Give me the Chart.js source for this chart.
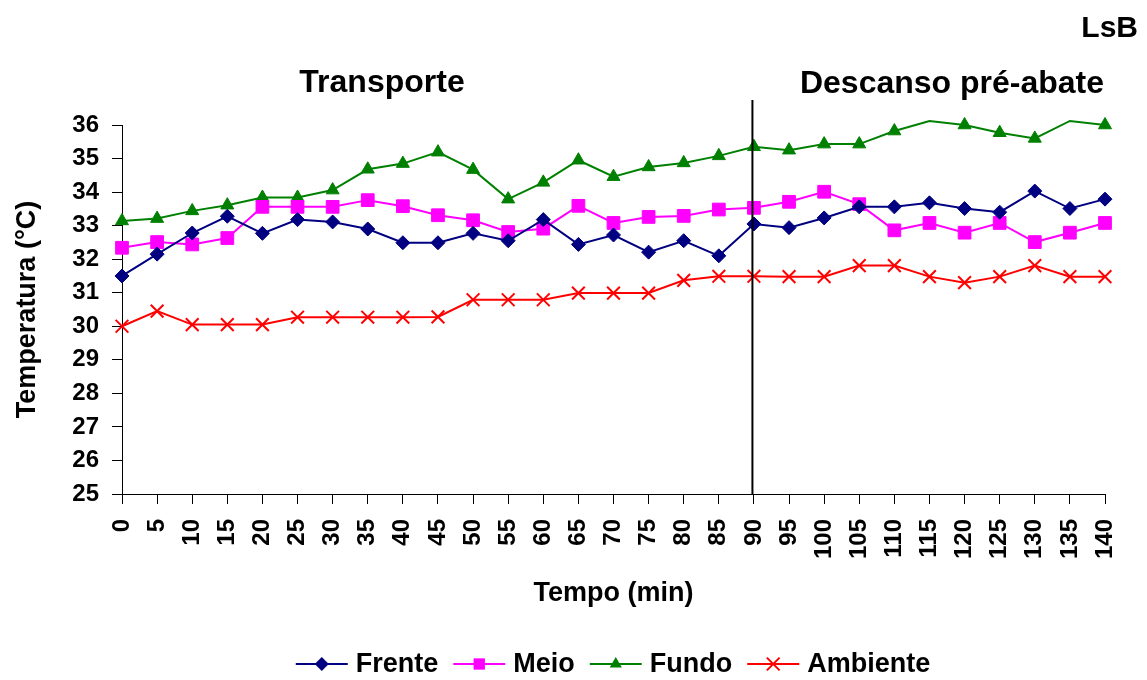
<!DOCTYPE html>
<html>
<head>
<meta charset="utf-8">
<title>Temperatura - LsB</title>
<script src="https://cdn.jsdelivr.net/npm/chart.js@4.4.1/dist/chart.umd.min.js"></script>
<style>
  html, body { margin: 0; padding: 0; background: #ffffff; }
  #wrap { width: 1147px; height: 680px; position: relative; }
  canvas { display: block; }
</style>
</head>
<body>
<div id="wrap"><canvas id="chart" width="1147" height="680"></canvas></div>
<script>
// Tempo (min)
const minutes = ['0','5','10','15','20','25','30','35','40','45','50','55','60','65','70',
                 '75','80','85','90','95','100','105','110','115','120','125','130','135','140'];

// Temperatura (°C) por posição
const frente = [31.50, 32.15, 32.78, 33.28, 32.77, 33.18, 33.11, 32.90, 32.49, 32.49,
                32.77, 32.55, 33.18, 32.44, 32.72, 32.21, 32.55, 32.10, 33.05,
                32.94, 33.23, 33.56, 33.56, 33.68, 33.51, 33.40, 34.03, 33.51, 33.79];
const meio = [32.34, 32.51, 32.44, 32.63, 33.56, 33.56, 33.56, 33.76, 33.58, 33.31,
              33.16, 32.81, 32.91, 33.59, 33.08, 33.26, 33.29, 33.48, 33.53,
              33.71, 34.01, 33.64, 32.86, 33.08, 32.79, 33.08, 32.51, 32.79, 33.08];
const fundo = [33.14, 33.21, 33.44, 33.61, 33.84, 33.84, 34.06, 34.68, 34.85, 35.19,
               34.67, 33.79, 34.29, 34.95, 34.46, 34.75, 34.87, 35.08, 35.35,
               35.25, 35.43, 35.43, 35.82, 36.12, 36.00, 35.77, 35.60, 36.12, 36.00];
const ambiente = [30.00, 30.45, 30.05, 30.05, 30.05, 30.27, 30.27, 30.27, 30.27, 30.28,
                  30.79, 30.79, 30.79, 30.99, 30.99, 30.99, 31.37, 31.49, 31.49,
                  31.48, 31.48, 31.81, 31.81, 31.48, 31.30, 31.48, 31.81, 31.48, 31.48];

// Fundo readings recorded without a marker
const fundoSemMarcador = ['115', '135'];

// Phase labels and the boundary between them
const fases = ['Transporte', 'Descanso pré-abate'];
const inicioDescanso = '90';
const rotuloLote = 'LsB';

const FONT = '"Liberation Sans", Arial, Helvetica, sans-serif';

function drawMarker(ctx, style, x, y, r, color) {
  ctx.save();
  ctx.fillStyle = color;
  ctx.strokeStyle = color;
  ctx.beginPath();
  if (style === 'rectRot') {
    ctx.moveTo(x, y - r); ctx.lineTo(x + r, y); ctx.lineTo(x, y + r); ctx.lineTo(x - r, y);
    ctx.closePath(); ctx.fill();
  } else if (style === 'rect') {
    const s = r * Math.SQRT1_2;
    ctx.rect(x - s, y - s, 2 * s, 2 * s); ctx.fill();
  } else if (style === 'triangle') {
    ctx.moveTo(x, y - r);
    ctx.lineTo(x + r * Math.sin(Math.PI * 2 / 3), y - r * Math.cos(Math.PI * 2 / 3));
    ctx.lineTo(x - r * Math.sin(Math.PI * 2 / 3), y - r * Math.cos(Math.PI * 2 / 3));
    ctx.closePath(); ctx.fill();
  } else if (style === 'crossRot') {
    const o = r * Math.SQRT1_2;
    ctx.lineWidth = 2;
    ctx.moveTo(x - o, y - o); ctx.lineTo(x + o, y + o);
    ctx.moveTo(x - o, y + o); ctx.lineTo(x + o, y - o);
    ctx.stroke();
  }
  ctx.restore();
}

// Phase titles, divider line and the legend row
const anotacoes = {
  id: 'anotacoes',
  afterDatasetsDraw(chart) {
    const { ctx, chartArea, scales } = chart;
    const xs = scales.x;
    const xDiv = xs.getPixelForValue(minutes.indexOf(inicioDescanso)) - 1.5;
    ctx.save();
    ctx.strokeStyle = '#000000';
    ctx.lineWidth = 2;
    ctx.beginPath();
    ctx.moveTo(xDiv, 100);
    ctx.lineTo(xDiv, chartArea.bottom);
    ctx.stroke();
    ctx.restore();
  },
  afterDraw(chart) {
    const { ctx } = chart;
    ctx.save();
    ctx.fillStyle = '#000000';
    ctx.textBaseline = 'alphabetic';
    ctx.font = 'bold 32px ' + FONT;
    ctx.textAlign = 'center';
    ctx.fillText(fases[0], 382, 92);
    ctx.fillText(fases[1], 952, 93);
    ctx.font = 'bold 30px ' + FONT;
    ctx.textAlign = 'right';
    ctx.fillText(rotuloLote, 1138, 37);

    // legend: line sample with marker, then the series name
    ctx.font = 'bold 27px ' + FONT;
    ctx.textAlign = 'left';
    ctx.textBaseline = 'middle';
    const sample = 52, gapText = 8, gapItem = 15;
    const items = chart.data.datasets.map(ds => ({
      ds, w: ctx.measureText(ds.label).width
    }));
    let total = 0;
    items.forEach((it, i) => { total += sample + gapText + it.w + (i ? gapItem : 0); });
    let x = 613 - total / 2;
    const y = 664;
    items.forEach(it => {
      const c = it.ds.borderColor;
      ctx.strokeStyle = c;
      ctx.lineWidth = 2;
      ctx.beginPath();
      ctx.moveTo(x, y); ctx.lineTo(x + sample, y);
      ctx.stroke();
      drawMarker(ctx, it.ds.pointStyle, x + sample / 2, y, it.ds.legendRadius, c);
      ctx.fillStyle = '#000000';
      ctx.fillText(it.ds.label, x + sample + gapText, y + 1);
      x += sample + gapText + it.w + gapItem;
    });
    ctx.restore();
  }
};

const serie = (label, data, color, style, radius, legendRadius) => ({
  label, data,
  borderColor: color,
  backgroundColor: color,
  pointBackgroundColor: color,
  pointBorderColor: color,
  borderWidth: 2,
  pointStyle: style,
  pointRadius: radius,
  pointHoverRadius: radius,
  pointBorderWidth: style === 'crossRot' ? 2 : 1,
  legendRadius,
  tension: 0,
  clip: false
});

const fundoRaios = minutes.map(m => fundoSemMarcador.includes(m) ? 0 : 7.5);

new Chart(document.getElementById('chart'), {
  type: 'line',
  data: {
    labels: minutes,
    datasets: [
      serie('Frente', frente, '#000080', 'rectRot', 7, 7),
      serie('Meio', meio, '#FF00FF', 'rect', 9, 8),
      serie('Fundo', fundo, '#008000', 'triangle', fundoRaios, 7),
      serie('Ambiente', ambiente, '#FF0000', 'crossRot', 9, 9)
    ]
  },
  options: {
    responsive: false,
    animation: false,
    devicePixelRatio: 1,
    layout: { padding: { left: 0, right: 42, top: 125, bottom: 0 } },
    plugins: {
      legend: { display: false },
      tooltip: { enabled: false },
      title: { display: false }
    },
    scales: {
      x: {
        type: 'category',
        offset: false,
        afterFit(scale) {
          scale.height = 186;
          scale.paddingLeft = 0;
          scale.paddingRight = 0;
        },
        grid: {
          display: true,
          drawOnChartArea: false,
          drawTicks: true,
          tickLength: 10,
          color: '#000000',
          lineWidth: 1
        },
        border: { display: true, color: '#000000', width: 1 },
        ticks: {
          autoSkip: false,
          minRotation: 90,
          maxRotation: 90,
          padding: 15,
          color: '#000000',
          font: { family: FONT, size: 24, weight: 'bold' }
        },
        title: {
          display: true,
          text: 'Tempo (min)',
          color: '#000000',
          font: { family: FONT, size: 27, weight: 'bold' },
          padding: { top: 0, bottom: 70 }
        }
      },
      y: {
        min: 25,
        max: 36,
        afterFit(scale) {
          scale.width = 122;
          scale.paddingTop = 0;
          scale.paddingBottom = 0;
        },
        grid: {
          display: true,
          drawOnChartArea: false,
          drawTicks: true,
          tickLength: 10,
          color: '#000000',
          lineWidth: 1
        },
        border: { display: true, color: '#000000', width: 1 },
        ticks: {
          stepSize: 1,
          padding: 13,
          color: '#000000',
          font: { family: FONT, size: 24, weight: 'bold' }
        },
        title: {
          display: true,
          text: 'Temperatura (°C)',
          color: '#000000',
          font: { family: FONT, size: 27, weight: 'bold' },
          padding: { top: 11, bottom: 0 }
        }
      }
    }
  },
  plugins: [anotacoes]
});
</script>
</body>
</html>
